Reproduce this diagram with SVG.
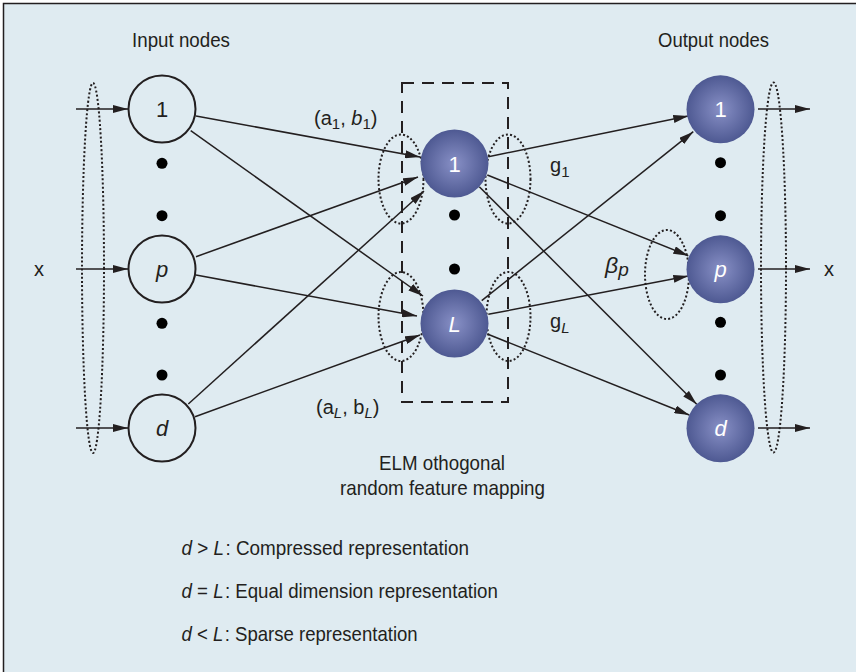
<svg xmlns="http://www.w3.org/2000/svg" width="856" height="672" viewBox="0 0 856 672">
  <defs>
    <radialGradient id="ball" cx="50%" cy="50%" r="50%">
      <stop offset="0%" stop-color="#8890c6"/>
      <stop offset="100%" stop-color="#4e5992"/>
    </radialGradient>
    <marker id="arrow" markerUnits="userSpaceOnUse" markerWidth="15" markerHeight="8" refX="15" refY="4" orient="auto">
      <path d="M0,0 L15,4 L0,8 Z" fill="#231f20"/>
    </marker>
    <style>
      text { font-family: "Liberation Sans", Arial, sans-serif; fill: #231f20; }
      .title { font-size: 21px; }
      .lbl { font-size: 20px; }
      .node-in { fill: none; stroke: #231f20; stroke-width: 2; }
      .node-ball { fill: url(#ball); }
      .num { font-size: 22px; text-anchor: middle; }
      .white { fill: #ffffff; }
      .it { font-style: italic; }
      .dot { fill: #000000; }
      .edge { stroke: #231f20; stroke-width: 1.5; fill: none; }
      .arrow { marker-end: url(#arrow); }
      .dotted { fill: none; stroke: #231f20; stroke-width: 2; stroke-dasharray: 2 2.2; }
      .dashed { fill: none; stroke: #231f20; stroke-width: 2; stroke-dasharray: 12 8; }
    </style>
  </defs>

  <!-- panel background with left and top rule -->
  <rect x="0" y="0" width="856" height="672" fill="#ffffff"/>
  <rect x="3.5" y="3.5" width="853" height="669" fill="#dfebf1"/>
  <path d="M3.5,672 L3.5,3.5 L856,3.5" fill="none" stroke="#231f20" stroke-width="1.5"/>

  <!-- headings -->
  <text class="title" x="181" y="47" text-anchor="middle" textLength="98" lengthAdjust="spacingAndGlyphs">Input nodes</text>
  <text class="title" x="713.5" y="47" text-anchor="middle" textLength="111" lengthAdjust="spacingAndGlyphs">Output nodes</text>

  <!-- hidden layer box -->
  <rect class="dashed" x="402" y="83" width="106" height="319"/>

  <!-- connectors -->
  <g id="connectors">
    <!-- input vector arrows -->
    <path class="edge arrow" d="M76,109 L128,109"/>
    <path class="edge arrow" d="M76,269 L128,269"/>
    <path class="edge arrow" d="M76,428 L128,428"/>
    <!-- input to hidden -->
    <path class="edge arrow" d="M196,116 L420,157"/>
    <path class="edge arrow" d="M190.7,130.7 L423,296"/>
    <path class="edge arrow" d="M196,256.7 L418,177"/>
    <path class="edge arrow" d="M196,275 L417,316"/>
    <path class="edge arrow" d="M188.3,404 L424,191"/>
    <path class="edge arrow" d="M195,416.7 L420,335"/>
    <!-- hidden to output -->
    <path class="edge arrow" d="M488.3,156.7 L688.3,116"/>
    <path class="edge arrow" d="M487.3,175 L688.3,255.7"/>
    <path class="edge arrow" d="M479.3,186.7 L696.7,404.3"/>
    <path class="edge arrow" d="M481.7,300.7 L693.3,131.7"/>
    <path class="edge arrow" d="M488.3,314.3 L688.3,276"/>
    <path class="edge arrow" d="M487.3,334 L689.3,415"/>
    <!-- output vector arrows -->
    <path class="edge arrow" d="M758,109 L810,109"/>
    <path class="edge arrow" d="M758,269 L810,269"/>
    <path class="edge arrow" d="M758,428 L810,428"/>
  </g>

  <!-- grouping ellipses -->
  <g id="groupings">
    <ellipse class="dotted" cx="93" cy="268" rx="11" ry="185"/>
    <ellipse class="dotted" cx="773.5" cy="267.5" rx="12.5" ry="185"/>
    <ellipse class="dotted" cx="401" cy="179" rx="22.5" ry="44.5"/>
    <ellipse class="dotted" cx="508" cy="179" rx="22.5" ry="44.5"/>
    <ellipse class="dotted" cx="401" cy="316.5" rx="22.5" ry="44.5"/>
    <ellipse class="dotted" cx="508.5" cy="316.5" rx="22" ry="44.5"/>
    <ellipse class="dotted" cx="667" cy="274.5" rx="22" ry="44.5"/>
  </g>

  <!-- input layer -->
  <g id="in-1">
    <circle class="node-in" cx="162" cy="109" r="33.5"/>
    <text class="num" x="162" y="117">1</text>
  </g>
  <g id="in-p">
    <circle class="node-in" cx="162" cy="269" r="33.5"/>
    <text class="num it" x="162" y="277">p</text>
  </g>
  <g id="in-d">
    <circle class="node-in" cx="162" cy="428" r="33.5"/>
    <text class="num it" x="162" y="436">d</text>
  </g>
  <g id="in-dots">
    <circle class="dot" cx="162" cy="163.3" r="5.5"/>
    <circle class="dot" cx="162" cy="215.7" r="5.5"/>
    <circle class="dot" cx="162" cy="323.3" r="5.5"/>
    <circle class="dot" cx="162" cy="375" r="5.5"/>
  </g>

  <!-- hidden layer -->
  <g id="hid-1">
    <circle class="node-ball" cx="454.5" cy="163.5" r="34"/>
    <text class="num white" x="454.5" y="171.5">1</text>
  </g>
  <g id="hid-L">
    <circle class="node-ball" cx="454.5" cy="323.5" r="34"/>
    <text class="num white it" x="454.5" y="331.5">L</text>
  </g>
  <g id="hid-dots">
    <circle class="dot" cx="454.5" cy="215" r="5.5"/>
    <circle class="dot" cx="454.5" cy="269" r="5.5"/>
  </g>

  <!-- output layer -->
  <g id="out-1">
    <circle class="node-ball" cx="720.5" cy="109.3" r="34"/>
    <text class="num white" x="720.5" y="117.3">1</text>
  </g>
  <g id="out-p">
    <circle class="node-ball" cx="720.5" cy="269.3" r="34"/>
    <text class="num white it" x="720.5" y="277.3">p</text>
  </g>
  <g id="out-d">
    <circle class="node-ball" cx="720.5" cy="428.3" r="34"/>
    <text class="num white it" x="720.5" y="436.3">d</text>
  </g>
  <g id="out-dots">
    <circle class="dot" cx="720.5" cy="162.7" r="5.5"/>
    <circle class="dot" cx="720.5" cy="215.7" r="5.5"/>
    <circle class="dot" cx="720.5" cy="322.3" r="5.5"/>
    <circle class="dot" cx="720.5" cy="375" r="5.5"/>
  </g>

  <!-- labels -->
  <text class="lbl" x="34" y="276">x</text>
  <text class="lbl" x="824" y="276">x</text>
  <text class="lbl" x="314" y="125">(a<tspan font-size="15" dy="4">1</tspan><tspan dy="-4">, </tspan><tspan class="it">b</tspan><tspan font-size="15" dy="4">1</tspan><tspan dy="-4">)</tspan></text>
  <text class="lbl" x="316" y="414">(a<tspan class="it" font-size="15" dy="4">L</tspan><tspan dy="-4">, b</tspan><tspan class="it" font-size="15" dy="4">L</tspan><tspan dy="-4">)</tspan></text>
  <text class="lbl" x="550" y="172">g<tspan font-size="15" dy="5">1</tspan></text>
  <text class="lbl" x="550" y="328">g<tspan class="it" font-size="15" dy="5">L</tspan></text>
  <text class="it" x="605" y="273" font-size="23">β<tspan font-size="19" dy="3">p</tspan></text>

  <text class="title" x="442" y="470" text-anchor="middle" textLength="126" lengthAdjust="spacingAndGlyphs">ELM othogonal</text>
  <text class="title" x="442.5" y="495" text-anchor="middle" textLength="205" lengthAdjust="spacingAndGlyphs">random feature mapping</text>

  <!-- size relations, set slightly condensed -->
  <g transform="translate(181.5,554.5) scale(0.9,1)">
    <text class="title" x="0" y="0"><tspan class="it">d</tspan> &gt; <tspan class="it">L</tspan><tspan dx="1.5">: Compressed representation</tspan></text>
  </g>
  <g transform="translate(181.5,597.5) scale(0.89,1)">
    <text class="title" x="0" y="0"><tspan class="it">d</tspan> = <tspan class="it">L</tspan><tspan dx="1.5">: Equal dimension representation</tspan></text>
  </g>
  <g transform="translate(181.5,640.5) scale(0.885,1)">
    <text class="title" x="0" y="0"><tspan class="it">d</tspan> &lt; <tspan class="it">L</tspan><tspan dx="1.5">: Sparse representation</tspan></text>
  </g>
</svg>
